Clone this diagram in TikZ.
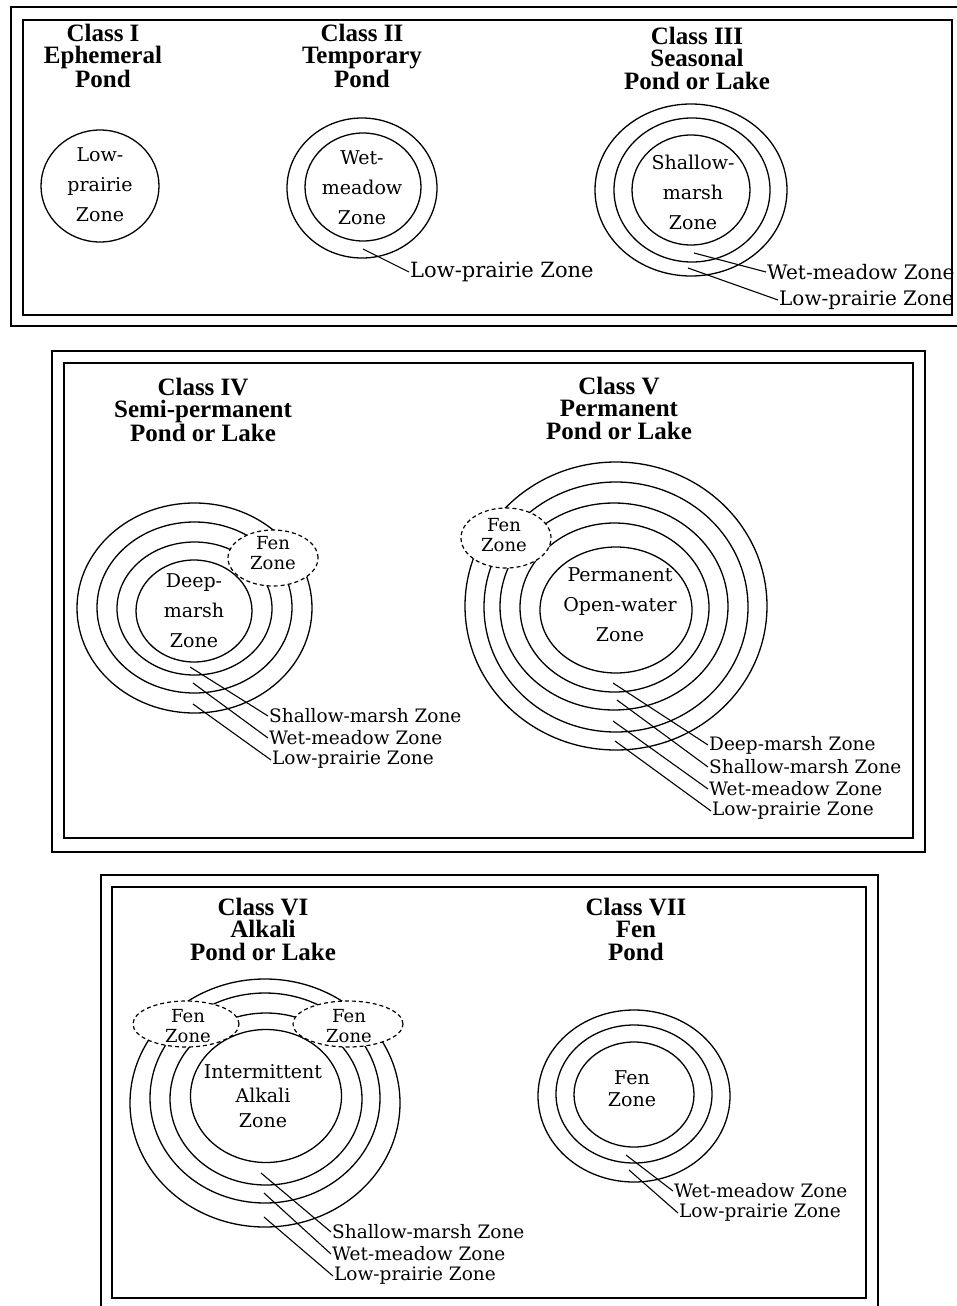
\documentclass[tikz,border=0pt]{standalone}
\usepackage{fontspec}
\usetikzlibrary{shapes.geometric}
\setmainfont{DejaVu Serif}
\newfontfamily\titlefont{Liberation Serif}
\begin{document}
\begin{tikzpicture}[x=1pt,y=-1pt,
  ring/.style={line width=1.3pt},
  frame/.style={line width=1.8pt},
  fen/.style={draw, fill=white, line width=1.2pt, dash pattern=on 4pt off 3pt},
  ttl/.style={align=center, font=\titlefont\bfseries\fontsize{25}{22.5}\selectfont, inner sep=0pt},
  zlab/.style={align=center, font=\fontsize{19}{30}\selectfont, inner sep=0pt},
  fenlab/.style={align=center, font=\fontsize{18}{20}\selectfont, inner sep=0pt},
  lab/.style={anchor=west, font=\fontsize{18.5}{22}\selectfont, inner sep=1pt},
  labbig/.style={anchor=west, font=\fontsize{21}{22}\selectfont, inner sep=1pt},
  lead/.style={line width=1.1pt}]
\useasboundingbox (0,0) rectangle (956,1306);
\fill[white] (0,0) rectangle (956,1306);

% ---------------- Panel 1 ----------------
\draw[frame] (11,7) rectangle (970,326);
\draw[frame] (23,20) rectangle (952,315);

\node[ttl] (t1) at (103,56) {Class I\\Ephemeral\\Pond};
\draw[ring] (100,186) ellipse [x radius=59, y radius=56];
\node[zlab] (z1) at (100,185) {Low-\\prairie\\Zone};

\node[ttl] (t2) at (362,56) {Class II\\Temporary\\Pond};
\draw[ring] (362,188) ellipse [x radius=75, y radius=70];
\draw[ring] (363,187) ellipse [x radius=58, y radius=54];
\node[zlab] (z2) at (362,188) {Wet-\\meadow\\Zone};
\node[labbig] (l2a) at (409,272) {Low-prairie Zone};
\coordinate (c2a) at (363,249);
\draw[lead] (c2a) -- (l2a.west);

\node[ttl] (t3) at (697,58) {Class III\\Seasonal\\Pond or Lake};
\draw[ring] (691,190) ellipse [x radius=96, y radius=86];
\draw[ring] (692,190) ellipse [x radius=78, y radius=72];
\draw[ring] (691,190) ellipse [x radius=59, y radius=55];
\node[zlab] (z3) at (693,192) {Shallow-\\marsh\\Zone};
\node[labbig,font=\fontsize{20}{22}\selectfont] (l3a) at (766,272) {Wet-meadow Zone};
\node[labbig,font=\fontsize{20}{22}\selectfont] (l3b) at (778,300) {Low-prairie Zone};
\coordinate (c3a) at (694,253);
\coordinate (c3b) at (688,268);
\draw[lead] (c3a) -- (l3a.west);
\draw[lead] (c3b) -- (l3b.west);

% ---------------- Panel 2 ----------------
\draw[frame] (52,351) rectangle (925,852);
\draw[frame] (64,363) rectangle (913,838);

\node[ttl] (t4) at (203,410) {Class IV\\Semi-permanent\\Pond or Lake};
\draw[ring] (194.5,608) ellipse [x radius=117.5, y radius=105];
\draw[ring] (194.5,607.5) ellipse [x radius=97.5, y radius=85.5];
\draw[ring] (194.5,608.5) ellipse [x radius=77.5, y radius=66.5];
\draw[ring] (194,611) ellipse [x radius=58, y radius=51];
\node[fen, ellipse, minimum width=90pt, minimum height=56pt, inner sep=0pt] (f4) at (273,558) {};
\node[fenlab] (f4t) at (273,553) {Fen\\Zone};
\node[zlab] (z4) at (194,611) {Deep-\\marsh\\Zone};
\node[lab] (l4a) at (268,716) {Shallow-marsh Zone};
\node[lab] (l4b) at (268,738) {Wet-meadow Zone};
\node[lab] (l4c) at (271,760) {Low-prairie Zone};
\coordinate (c4a) at (190,667);
\coordinate (c4b) at (193,683);
\coordinate (c4c) at (193,704);
\draw[lead] (c4a) -- (l4a.west);
\draw[lead] (c4b) -- (l4b.west);
\draw[lead] (c4c) -- (l4c.west);

\node[ttl] (t5) at (619,408) {Class V\\Permanent\\Pond or Lake};
\draw[ring] (616,606) ellipse [x radius=151, y radius=144];
\draw[ring] (616,607) ellipse [x radius=132, y radius=125];
\draw[ring] (614,606.5) ellipse [x radius=114, y radius=103.5];
\draw[ring] (614.5,607.5) ellipse [x radius=94.5, y radius=84.5];
\draw[ring] (616,610) ellipse [x radius=76, y radius=63];
\node[fen, ellipse, minimum width=90pt, minimum height=60pt, inner sep=0pt] (f5) at (506,538) {};
\node[fenlab] (f5t) at (504,535) {Fen\\Zone};
\node[zlab] (z5) at (620,605) {Permanent\\Open-water\\Zone};
\node[lab] (l5a) at (708,745) {Deep-marsh Zone};
\node[lab] (l5b) at (708,767) {Shallow-marsh Zone};
\node[lab] (l5c) at (708,789) {Wet-meadow Zone};
\node[lab] (l5d) at (711,811) {Low-prairie Zone};
\coordinate (c5a) at (613,683);
\coordinate (c5b) at (617,700);
\coordinate (c5c) at (613,721);
\coordinate (c5d) at (615,741);
\draw[lead] (c5a) -- (l5a.west);
\draw[lead] (c5b) -- (l5b.west);
\draw[lead] (c5c) -- (l5c.west);
\draw[lead] (c5d) -- (l5d.west);

% ---------------- Panel 3 ----------------
\draw[frame] (101,875) rectangle (878,1312);
\draw[frame] (112,887) rectangle (866,1298);

\node[ttl] (t6) at (263,929) {Class VI\\Alkali\\Pond or Lake};
\draw[ring] (265,1103) ellipse [x radius=135, y radius=124];
\draw[ring] (265,1098) ellipse [x radius=115, y radius=105];
\draw[ring] (266,1099) ellipse [x radius=96, y radius=86];
\draw[ring] (266,1096) ellipse [x radius=75.5, y radius=66.5];
\node[fen, ellipse, minimum width=106pt, minimum height=46pt, inner sep=0pt] (f6a) at (186,1024) {};
\node[fen, ellipse, minimum width=110pt, minimum height=46pt, inner sep=0pt] (f6b) at (348,1024) {};
\node[fenlab] (f6at) at (188,1026) {Fen\\Zone};
\node[fenlab] (f6bt) at (349,1026) {Fen\\Zone};
\node[zlab,font=\fontsize{19}{24.5}\selectfont] (z6) at (263,1096) {Intermittent\\Alkali\\Zone};
\node[lab] (l6a) at (331,1232) {Shallow-marsh Zone};
\node[lab] (l6b) at (331,1254) {Wet-meadow Zone};
\node[lab] (l6c) at (333,1276) {Low-prairie Zone};
\coordinate (c6a) at (261,1173);
\coordinate (c6b) at (264,1193);
\coordinate (c6c) at (264,1217);
\draw[lead] (c6a) -- (l6a.west);
\draw[lead] (c6b) -- (l6b.west);
\draw[lead] (c6c) -- (l6c.west);

\node[ttl] (t7) at (636,929) {Class VII\\Fen\\Pond};
\draw[ring] (634,1096) ellipse [x radius=96, y radius=86];
\draw[ring] (634,1094) ellipse [x radius=78, y radius=69];
\draw[ring] (634,1094.5) ellipse [x radius=60, y radius=52.5];
\node[fenlab,font=\fontsize{19}{22}\selectfont] (z7) at (632,1089) {Fen\\Zone};
\node[lab] (l7a) at (673,1191) {Wet-meadow Zone};
\node[lab] (l7b) at (678,1213) {Low-prairie Zone};
\coordinate (c7a) at (626,1155);
\coordinate (c7b) at (629,1170);
\draw[lead] (c7a) -- (l7a.west);
\draw[lead] (c7b) -- (l7b.west);
\end{tikzpicture}
\end{document}
